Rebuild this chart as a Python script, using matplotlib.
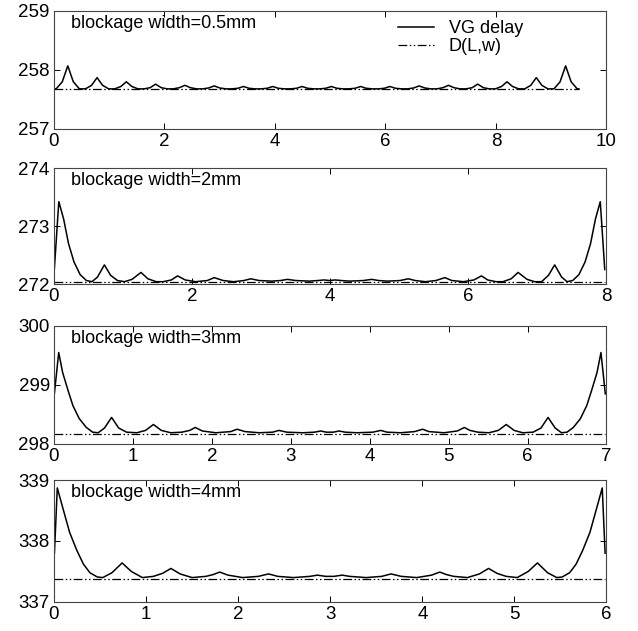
import matplotlib
matplotlib.use("Agg")
import matplotlib.pyplot as plt

plt.rcParams["font.family"] = ["Liberation Sans", "DejaVu Sans"]

# blockage widths shown in the four panels
labels = ["blockage width=0.5mm", "blockage width=2mm",
          "blockage width=3mm", "blockage width=4mm"]

# D(L,w) level for each panel
d_level = [257.675, 272.03, 298.175, 337.38]

# x range, y range and tick steps per panel
x_max = [10, 8, 7, 6]
x_step = [2, 2, 1, 1]
y_low = [257, 272, 298, 337]
y_high = [259, 274, 300, 339]

# VG delay curves (vertices)
x1 = [0.00,
      0.04, 0.15, 0.25, 0.35, 0.46,
      0.57, 0.68, 0.78, 0.88, 0.99,
      1.10, 1.21, 1.31, 1.41, 1.52,
      1.63, 1.74, 1.84, 1.94, 2.05,
      2.16, 2.27, 2.37, 2.47, 2.58,
      2.69, 2.80, 2.90, 3.00, 3.11,
      3.22, 3.33, 3.43, 3.53, 3.64,
      3.75, 3.86, 3.96, 4.06, 4.17,
      4.28, 4.39, 4.49, 4.59, 4.70,
      4.81, 4.92, 5.02, 5.12, 5.23,
      5.34, 5.45, 5.55, 5.65, 5.76,
      5.87, 5.98, 6.08, 6.18, 6.29,
      6.40, 6.51, 6.61, 6.71, 6.82,
      6.93, 7.04, 7.14, 7.24, 7.35,
      7.46, 7.57, 7.67, 7.77, 7.88,
      7.99, 8.10, 8.20, 8.30, 8.41,
      8.52, 8.63, 8.73, 8.83, 8.94,
      9.05, 9.16, 9.26, 9.36, 9.47,
      9.50]
y1 = [257.68,
      257.68, 257.80, 258.07, 257.80, 257.68,
      257.68, 257.74, 257.87, 257.74, 257.68,
      257.68, 257.72, 257.80, 257.72, 257.68,
      257.68, 257.70, 257.76, 257.70, 257.68,
      257.68, 257.70, 257.74, 257.70, 257.68,
      257.68, 257.695, 257.73, 257.695, 257.68,
      257.68, 257.69, 257.72, 257.69, 257.68,
      257.68, 257.69, 257.72, 257.69, 257.68,
      257.68, 257.69, 257.72, 257.69, 257.68,
      257.68, 257.69, 257.72, 257.69, 257.68,
      257.68, 257.69, 257.72, 257.69, 257.68,
      257.68, 257.69, 257.72, 257.69, 257.68,
      257.68, 257.695, 257.73, 257.695, 257.68,
      257.68, 257.70, 257.74, 257.70, 257.68,
      257.68, 257.70, 257.76, 257.70, 257.68,
      257.68, 257.72, 257.80, 257.72, 257.68,
      257.68, 257.74, 257.87, 257.74, 257.68,
      257.68, 257.80, 258.07, 257.80, 257.68,
      257.68]

x2 = [0.005, 0.07, 0.14, 0.21, 0.29, 0.38, 0.47, 0.55, 0.63, 0.73, 0.82, 0.92, 1.02,
      1.13, 1.26, 1.36, 1.48, 1.58, 1.70, 1.79, 1.90, 2.05, 2.22, 2.32, 2.45, 2.60,
      2.75, 2.85, 2.97, 3.15, 3.28, 3.38, 3.50, 3.70, 3.82, 3.91, 3.99, 4.07, 4.16,
      4.28, 4.48, 4.60, 4.70, 4.83, 5.01, 5.13, 5.23, 5.38, 5.53, 5.66, 5.76, 5.93,
      6.08, 6.19, 6.28, 6.40, 6.50, 6.62, 6.72, 6.85, 6.96, 7.06, 7.16, 7.25, 7.35,
      7.43, 7.51, 7.60, 7.69, 7.77, 7.84, 7.91, 7.975]
y2 = [272.25, 273.42, 273.12, 272.70, 272.38, 272.16, 272.06, 272.04, 272.12, 272.33,
      272.15, 272.06, 272.04, 272.08, 272.20, 272.09, 272.04, 272.04, 272.07, 272.14,
      272.07, 272.04, 272.06, 272.11, 272.06, 272.04, 272.06, 272.09, 272.06, 272.05,
      272.06, 272.08, 272.06, 272.05, 272.06, 272.07, 272.06, 272.07, 272.06, 272.05,
      272.06, 272.08, 272.06, 272.05, 272.06, 272.09, 272.06, 272.04, 272.06, 272.11,
      272.06, 272.04, 272.07, 272.14, 272.07, 272.04, 272.04, 272.09, 272.20, 272.08,
      272.04, 272.04, 272.15, 272.33, 272.12, 272.04, 272.06, 272.16, 272.38, 272.70,
      273.12, 273.42, 272.25]

x3 = [0.005, 0.06, 0.11, 0.18, 0.24, 0.32, 0.41, 0.49, 0.56, 0.64, 0.73, 0.82, 0.92,
      1.05, 1.16, 1.26, 1.36, 1.48, 1.62, 1.72, 1.79, 1.88, 2.05, 2.24, 2.32, 2.42,
      2.60, 2.77, 2.85, 2.95, 3.15, 3.30, 3.38, 3.45, 3.54, 3.61, 3.69, 3.84, 4.04,
      4.14, 4.22, 4.39, 4.57, 4.67, 4.75, 4.94, 5.11, 5.20, 5.27, 5.37, 5.51, 5.63,
      5.73, 5.83, 5.94, 6.07, 6.17, 6.26, 6.35, 6.43, 6.50, 6.58, 6.67, 6.75, 6.81,
      6.88, 6.93, 6.985]
y3 = [298.85, 299.55, 299.21, 298.90, 298.65, 298.43, 298.28, 298.20, 298.19, 298.27,
      298.45, 298.27, 298.20, 298.19, 298.23, 298.33, 298.23, 298.19, 298.20, 298.23,
      298.28, 298.22, 298.19, 298.21, 298.25, 298.21, 298.19, 298.20, 298.23, 298.20,
      298.19, 298.20, 298.22, 298.20, 298.20, 298.22, 298.20, 298.19, 298.20, 298.23,
      298.20, 298.19, 298.21, 298.25, 298.21, 298.19, 298.22, 298.28, 298.23, 298.20,
      298.19, 298.23, 298.33, 298.23, 298.19, 298.20, 298.27, 298.45, 298.27, 298.19,
      298.20, 298.28, 298.43, 298.65, 298.90, 299.21, 299.55, 298.85]

x4 = [0.005, 0.036, 0.10, 0.17, 0.25, 0.32, 0.39, 0.47, 0.53, 0.63, 0.74, 0.84, 0.96,
      1.08, 1.18, 1.27, 1.37, 1.50, 1.65, 1.73, 1.80, 1.89, 2.05, 2.22, 2.33, 2.43,
      2.60, 2.78, 2.86, 2.95, 3.04, 3.13, 3.21, 3.39, 3.56, 3.66, 3.77, 3.94, 4.10,
      4.19, 4.26, 4.34, 4.49, 4.62, 4.72, 4.81, 4.91, 5.03, 5.15, 5.25, 5.36, 5.46,
      5.52, 5.60, 5.67, 5.74, 5.82, 5.89, 5.954, 5.985]
y4 = [337.80, 338.87, 338.52, 338.14, 337.84, 337.62, 337.48, 337.41, 337.40, 337.48,
      337.64, 337.50, 337.40, 337.42, 337.47, 337.55, 337.46, 337.40, 337.42, 337.45,
      337.49, 337.44, 337.40, 337.42, 337.46, 337.42, 337.40, 337.42, 337.44, 337.42,
      337.42, 337.44, 337.42, 337.40, 337.42, 337.46, 337.42, 337.40, 337.44, 337.49,
      337.45, 337.42, 337.40, 337.46, 337.55, 337.47, 337.42, 337.40, 337.50, 337.64,
      337.48, 337.40, 337.41, 337.48, 337.62, 337.84, 338.14, 338.52, 338.87, 337.80]

curves_x = [x1, x2, x3, x4]
curves_y = [y1, y2, y3, y4]

fig = plt.figure(figsize=(6.38, 6.31), dpi=100)
# [bottom, height] of each panel in figure fractions
boxes = [(0.7956, 0.187), (0.5499, 0.1838), (0.2964, 0.187), (0.046, 0.1933)]

for i in range(4):
    ax = fig.add_axes([0.0846, boxes[i][0], 0.866, boxes[i][1]])
    ax.plot(curves_x[i], curves_y[i], color="black", lw=1.1, label="VG delay")
    ax.plot([0, curves_x[i][-1]], [d_level[i], d_level[i]], color="black", lw=0.9,
            linestyle=(0, (7, 2, 1.2, 2, 1.2, 2)), label="D(L,w)")
    ax.set_xlim(0, x_max[i])
    ax.set_ylim(y_low[i], y_high[i])
    ax.set_xticks(range(0, x_max[i] + 1, x_step[i]))
    ax.set_yticks([y_low[i], y_low[i] + 1, y_high[i]])
    ax.tick_params(direction="in", top=True, right=True, length=4, width=0.7,
                   labelsize=13.5, pad=3)
    for s in ax.spines.values():
        s.set_linewidth(0.8)
        s.set_color("#444444")
    ax.text(0.03, 0.97, labels[i], transform=ax.transAxes, ha="left", va="top",
            fontsize=13)
    if i == 0:
        ax.legend(loc="upper left", bbox_to_anchor=(0.6, 1.03), frameon=False,
                  fontsize=13, handlelength=2.0, handletextpad=0.8,
                  labelspacing=0.05, borderaxespad=0.3)

fig.savefig("out.png", dpi=100)
